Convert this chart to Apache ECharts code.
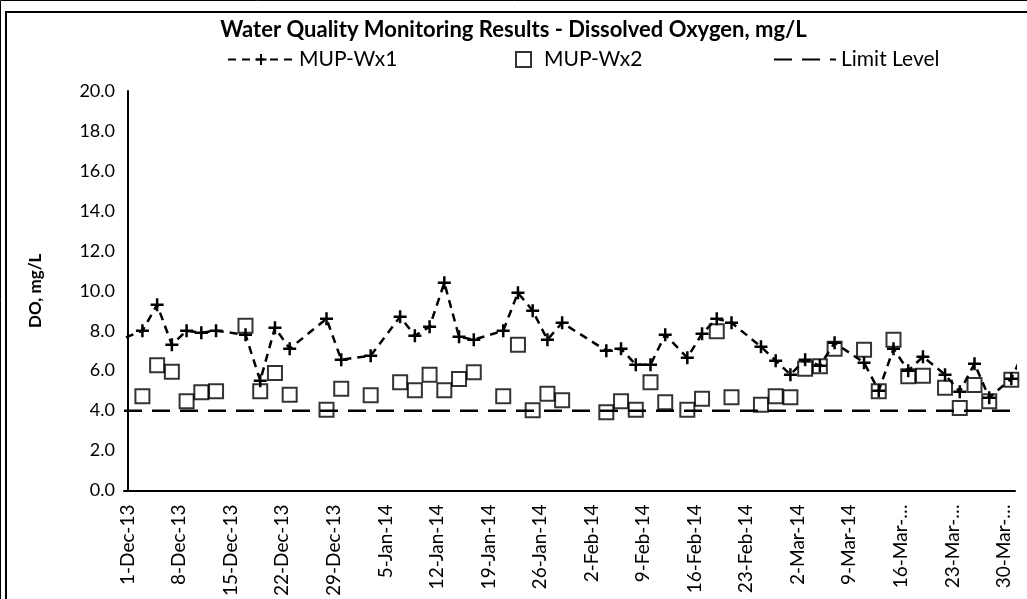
<!DOCTYPE html>
<html>
<head>
<meta charset="utf-8">
<script src="https://cdn.jsdelivr.net/npm/echarts@6/dist/echarts.min.js"></script>
<style>
  html, body { margin: 0; padding: 0; background: #fff; }
  #chart { width: 1027px; height: 599px; }
</style>
</head>
<body>
<div id="chart"></div>
<script>
// 采样日期（相对 2013-12-01 的天数）
const sampleDays = [-2, 2, 4, 6, 8, 10, 12, 16, 18, 20, 22, 27, 29, 33, 37, 39, 41, 43, 45, 47,
  51, 53, 55, 57, 59, 65, 67, 69, 71, 73, 76, 78, 80, 82, 86, 88, 90, 92, 94, 96,
  100, 102, 104, 106, 108, 111, 113, 115, 117, 120, 122];

// MUP-Wx1 溶解氧
const wx1Values = [7.4, 8.0, 9.3, 7.3, 8.0, 7.9, 8.0, 7.8, 5.5, 8.15, 7.1, 8.6, 6.55, 6.75, 8.7, 7.75, 8.2, 10.4, 7.7, 7.55,
  8.0, 9.9, 9.0, 7.55, 8.4, 7.0, 7.1, 6.3, 6.3, 7.8, 6.65, 7.85, 8.6, 8.4, 7.2, 6.5, 5.8, 6.55, 6.25, 7.4,
  6.4, 5.0, 7.1, 6.0, 6.7, 5.8, 4.95, 6.35, 4.65, 5.6, 7.2];

// MUP-Wx2 溶解氧（与 Wx1 同日采样，首尾两个不在坐标范围内的点除外）
const wx2Values = [null, 4.72, 6.27, 5.95, 4.47, 4.92, 4.97, 8.25, 4.97, 5.88, 4.8, 4.05, 5.1, 4.77, 5.42, 5.02, 5.8, 5.02, 5.58, 5.92,
  4.72, 7.3, 4.02, 4.85, 4.52, 3.92, 4.47, 4.05, 5.42, 4.42, 4.05, 4.6, 7.97, 4.67, 4.3, 4.72, 4.67, 6.1, 6.22, 7.1,
  7.05, 4.97, 7.55, 5.72, 5.75, 5.15, 4.13, 5.28, 4.47, 5.55, null];

// 限值
const limitLevel = 4.0;

// 横轴刻度文字（每 7 天一个）
const tickLabels = ['1-Dec-13', '8-Dec-13', '15-Dec-13', '22-Dec-13', '29-Dec-13', '5-Jan-14', '12-Jan-14',
  '19-Jan-14', '26-Jan-14', '2-Feb-14', '9-Feb-14', '16-Feb-14', '23-Feb-14', '2-Mar-14', '9-Mar-14',
  '16-Mar-…', '23-Mar-…', '30-Mar-…'];
const dayCount = 121;

const font = 'Lato, "Open Sans", sans-serif';

// 类目轴只用来摆放刻度文字，每天一个格子
const categories = [];
for (let i = 0; i < dayCount; i++) {
  categories.push(i % 7 === 0 ? tickLabels[i / 7] : '');
}

const wx1Data = sampleDays.map((d, i) => [d, wx1Values[i]]);
const wx2Data = [];
sampleDays.forEach((d, i) => {
  if (wx2Values[i] !== null) wx2Data.push([d, wx2Values[i]]);
});
const limitData = [[-0.5, limitLevel], [dayCount - 0.5, limitLevel]];

const chart = echarts.init(document.getElementById('chart'));

const legendText = { fontFamily: font, fontSize: 21, color: '#000' };

const option = {
  backgroundColor: '#fff',
  animation: false,
  title: {
    text: 'Water Quality Monitoring Results - Dissolved Oxygen, mg/L',
    left: 'center',
    top: 14,
    textStyle: { fontFamily: font, fontSize: 22, fontWeight: 'bold', color: '#000' }
  },
  legend: [
    { data: ['MUP-Wx1'], left: 222, top: 44, itemWidth: 66, itemHeight: 14, textStyle: legendText },
    { data: ['MUP-Wx2'], left: 510, top: 44, itemWidth: 15, itemHeight: 15,
      textStyle: Object.assign({ padding: [0, 0, 0, 8] }, legendText) },
    { data: ['Limit Level'], left: 768, top: 44, itemWidth: 62, itemHeight: 14, textStyle: legendText,
      itemStyle: { color: 'rgba(0,0,0,0)', borderWidth: 0 } }
  ],
  grid: { left: 124, right: 12, top: 91, bottom: 108 },
  xAxis: [
    {
      type: 'category',
      data: categories,
      boundaryGap: true,
      axisLine: { lineStyle: { color: '#000', width: 2 } },
      axisTick: { show: false },
      axisLabel: {
        interval: 0,
        rotate: 90,
        margin: 14,
        fontFamily: font,
        fontSize: 19,
        color: '#000'
      },
      splitLine: { show: false }
    },
    {
      type: 'value',
      min: -0.5,
      max: dayCount - 0.5,
      show: false,
      splitLine: { show: false }
    }
  ],
  yAxis: {
    type: 'value',
    min: 0,
    max: 20,
    interval: 2,
    name: 'DO, mg/L',
    nameLocation: 'middle',
    nameGap: 80,
    nameTextStyle: { fontFamily: font, fontSize: 17, fontWeight: 'bold', color: '#000' },
    axisLine: { show: true, lineStyle: { color: '#000', width: 2 } },
    axisTick: { show: false },
    axisLabel: {
      margin: 9,
      fontFamily: font,
      fontSize: 18,
      color: '#000',
      formatter: v => v.toFixed(1)
    },
    splitLine: { show: false }
  },
  series: [
    {
      name: 'MUP-Wx1',
      type: 'line',
      xAxisIndex: 1,
      data: wx1Data,
      symbol: 'path://M5,0L5,10M0,5L10,5',
      symbolSize: 13,
      showAllSymbol: true,
      lineStyle: { color: '#000', width: 2.5, type: [8, 6] },
      itemStyle: { color: '#000', borderColor: '#000', borderWidth: 2.5 },
      z: 3
    },
    {
      name: 'MUP-Wx2',
      type: 'scatter',
      xAxisIndex: 1,
      data: wx2Data,
      symbol: 'rect',
      symbolSize: 14,
      itemStyle: { color: 'rgba(0,0,0,0)', borderColor: '#000', borderWidth: 2 },
      z: 4
    },
    {
      name: 'Limit Level',
      type: 'line',
      xAxisIndex: 1,
      data: limitData,
      symbol: 'none',
      itemStyle: { color: '#000' },
      lineStyle: { color: '#000', width: 2.5, type: [18, 10] },
      z: 2
    }
  ],
  graphic: [
    // 外框（双线）
    { type: 'rect', shape: { x: 0.5, y: 0.5, width: 1030, height: 610 }, style: { fill: 'none', stroke: '#000', lineWidth: 1 }, silent: true },
    { type: 'rect', shape: { x: 6, y: 12, width: 1030, height: 610 }, style: { fill: 'none', stroke: '#000', lineWidth: 2 }, silent: true }
  ]
};

chart.setOption(option);
</script>
</body>
</html>
